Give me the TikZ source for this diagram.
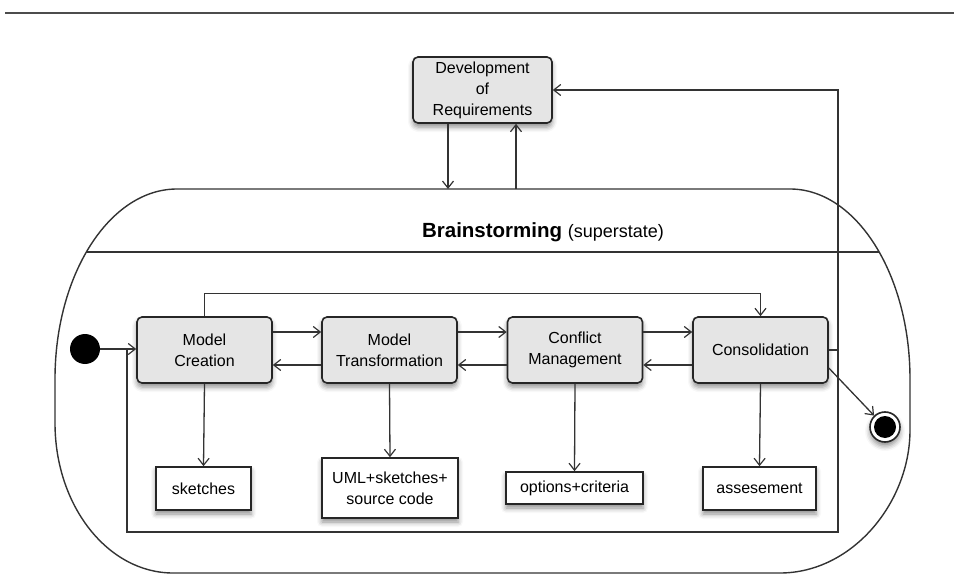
\documentclass[tikz,border=0pt]{standalone}
\usepackage{fontspec}
\setmainfont{Liberation Sans}
\usetikzlibrary{arrows.meta,shadows.blur}

\begin{document}
\begin{tikzpicture}[x=1pt,y=-1pt,
  line/.style={draw=black!80, line width=1.3pt},
  arr/.style={line, -{Straight Barb[length=7pt,width=11pt,line width=1.2pt]}},
  soft/.style={blur shadow={shadow xshift=0pt, shadow yshift=-4pt, shadow blur radius=5pt, shadow opacity=45}},
  state/.style={draw=black!85, line width=1.6pt, fill=black!10, rounded corners=5pt,
    minimum width=135pt, minimum height=66pt, align=center,
    font=\fontsize{16}{21}\selectfont, soft},
  artifact/.style={draw=black!85, line width=1.6pt, fill=white, align=center,
    inner sep=0pt, font=\fontsize{16}{21}\selectfont, soft},
]
\useasboundingbox (0,0) rectangle (954,575);

% rule across the top
\draw[black!70, line width=1.6pt] (5,13) -- (954,13);

% superstate outline with elliptical corners
\draw[line, line width=1.4pt]
  (177,189) -- (790,189)
  .. controls (856,189) and (910,274) .. (910,379)
  -- (910,430)
  .. controls (910,503) and (852,573) .. (780,573)
  -- (173,573)
  .. controls (108,573) and (55,506) .. (55,423)
  -- (55,379)
  .. controls (55,274) and (110,189) .. (177,189) -- cycle;
\draw[line] (86,252) -- (879,252);
\node[anchor=base] (title) at (543,237)
  {\fontsize{20.5}{24}\selectfont\textbf{Brainstorming} \fontsize{18}{22}\selectfont(superstate)};

% states
\node[state] (dev)  at (482.5,90) [minimum width=139pt] {Development\\of\\Requirements};
\node[state] (mc)   at (204.5,350) {Model\\Creation};
\node[state] (mt)   at (389.5,350) {Model\\Transformation};
\node[state] (cm)   at (575,350)   {Conflict\\Management};
\node[state] (cons) at (760.5,350) {Consolidation};

% artifacts
\node[artifact, minimum width=95pt,  minimum height=43pt] (sk)  at (203.5,488.5) {sketches};
\node[artifact, minimum width=136pt, minimum height=60pt] (uml) at (390,488) {UML+sketches+\\source code};
\node[artifact, minimum width=137pt, minimum height=32pt] (opt) at (574.5,488) {options+criteria};
\node[artifact, minimum width=113pt, minimum height=43pt] (ass) at (759.5,488.5) {assesement};

% initial and final pseudostates
\node[circle, fill=black, minimum size=30pt, inner sep=0pt] (init) at (85,349) {};
\node[circle, draw=black!85, line width=1.6pt, fill=white, minimum size=30pt, inner sep=0pt, soft] (fin) at (885,427) {};
\node[circle, fill=black, minimum size=22pt, inner sep=0pt] (finc) at (fin) {};

% coordinates of the loop and superstate border
\coordinate (bsA) at (448,189);
\coordinate (bsB) at (516,189);
\coordinate (loopTR) at (838,350);
\coordinate (loopBR) at (838,532);
\coordinate (loopBL) at (127,532);
\coordinate (j) at (127,349);

% transitions
\draw[arr] (dev.south -| bsA) -- (bsA);
\draw[arr] (bsB) -- (dev.south -| bsB);
\draw[arr] (init.east) -- (mc.west |- init.east);
\draw[arr] ([yshift=18pt]mc.east) -- ([yshift=18pt]mt.west);
\draw[arr] ([yshift=18pt]mt.east) -- ([yshift=18pt]cm.west);
\draw[arr] ([yshift=18pt]cm.east) -- ([yshift=18pt]cons.west);
\draw[arr] ([yshift=-15pt]cons.west) -- ([yshift=-15pt]cm.east);
\draw[arr] ([yshift=-15pt]cm.west) -- ([yshift=-15pt]mt.east);
\draw[arr] ([yshift=-15pt]mt.west) -- ([yshift=-15pt]mc.east);
\draw[arr] (mc.north) -- ++(0,-23) -| (cons.north);
\draw[line] (cons.east) -- (loopTR) -- (loopBR) -- (loopBL) -- (j);
\draw[arr] (loopTR) |- (dev.east);
\draw[arr] ([yshift=-18pt]cons.east) -- (fin);

% produced artifacts
\draw[arr] (mc.south) -- (sk.north);
\draw[arr] (mt.south) -- (uml.north);
\draw[arr] (cm.south) -- (opt.north);
\draw[arr] (cons.south) -- (ass.north);
\end{tikzpicture}
\end{document}
